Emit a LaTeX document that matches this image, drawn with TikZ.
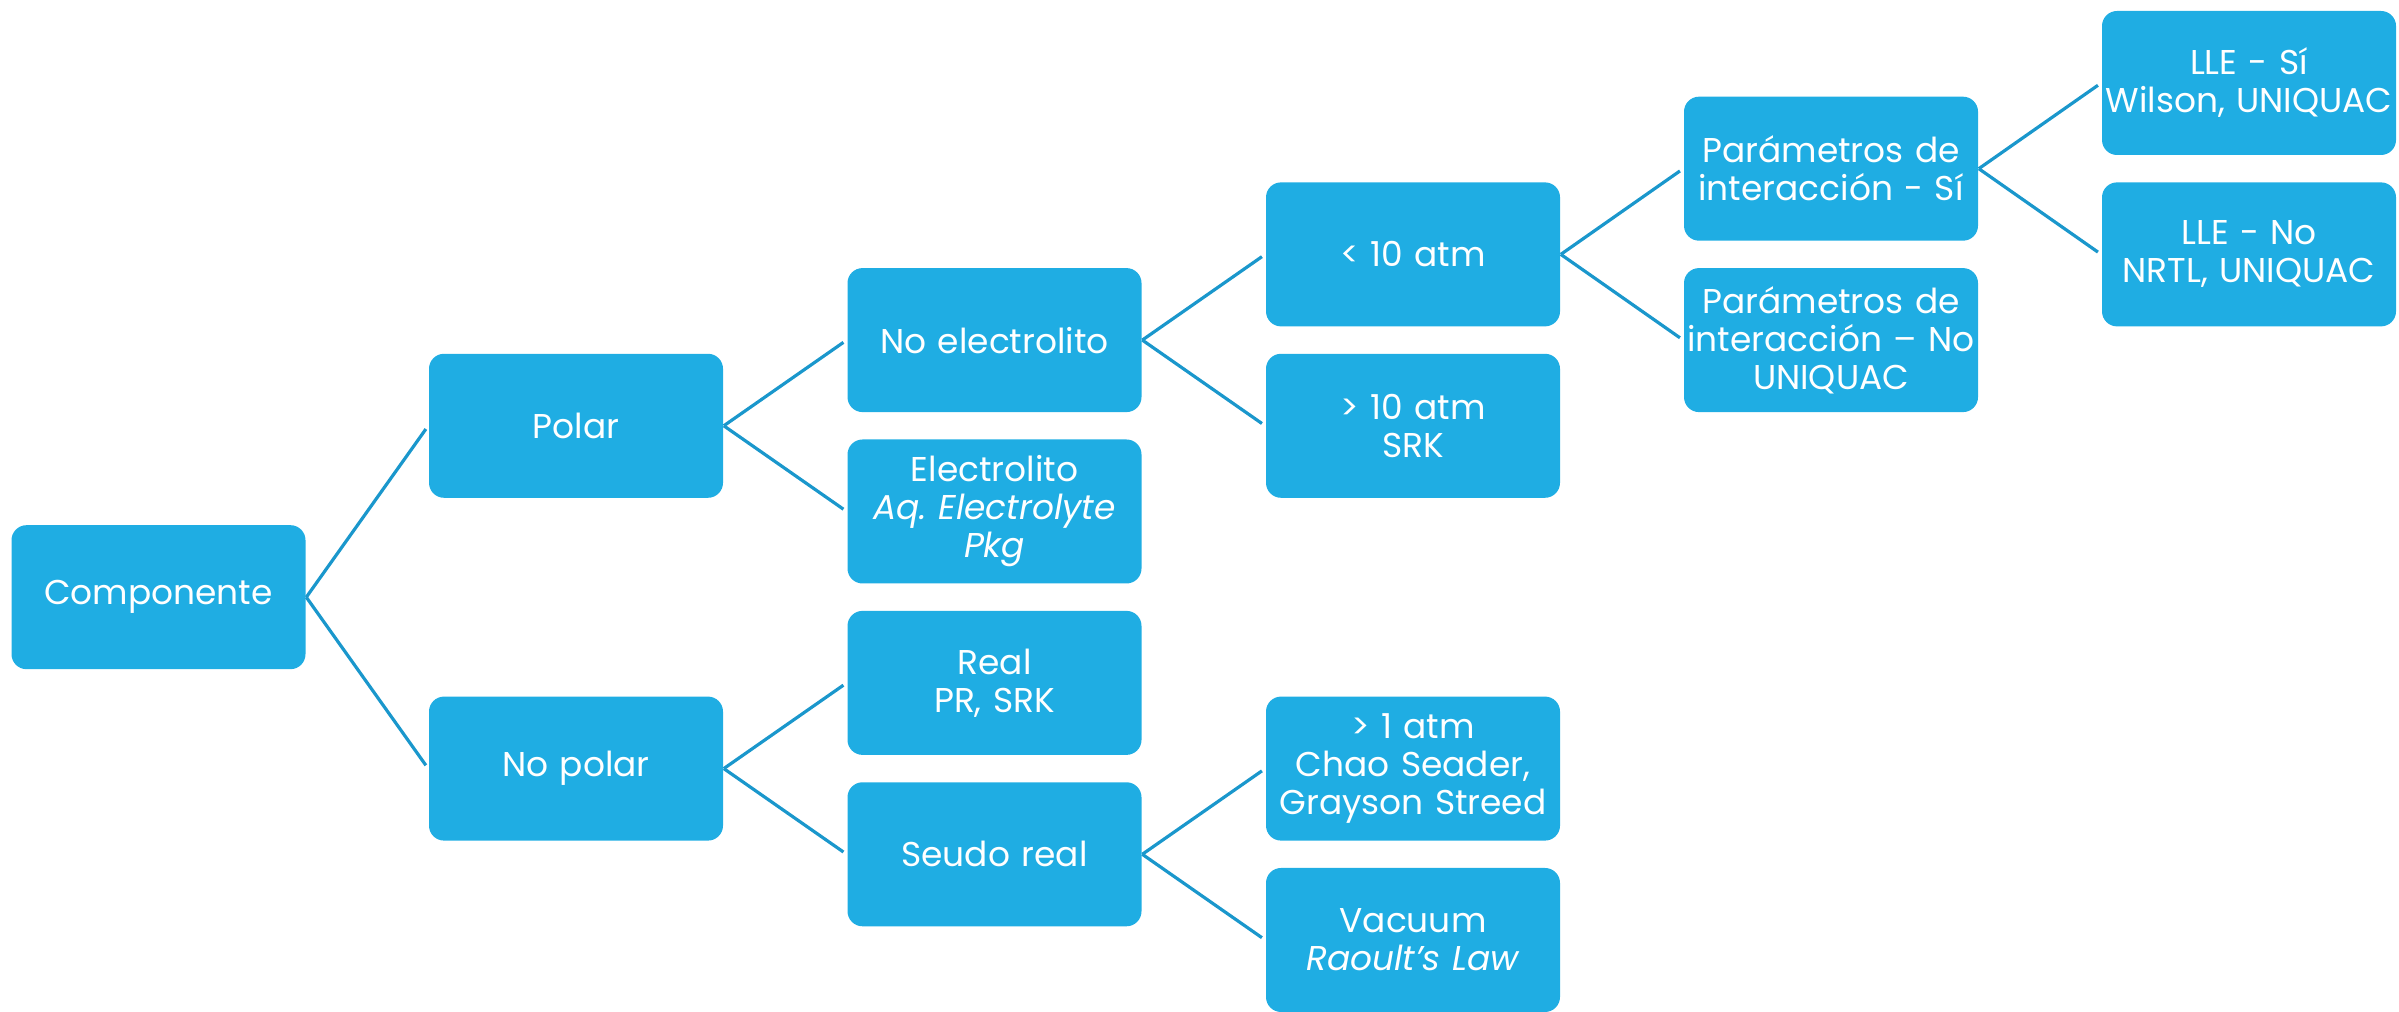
\documentclass[tikz,border=0pt]{standalone}
\usepackage{fontspec}
\setmainfont{Poppins}
\definecolor{boxfill}{HTML}{1FADE3}
\definecolor{linecol}{HTML}{1A97CC}
\begin{document}
\begin{tikzpicture}[x=0.25pt,y=-0.25pt,
  box/.style={draw=none,fill=boxfill,rounded corners=3.75pt,minimum width=73.5pt,minimum height=36pt,
    text width=72pt,inner xsep=0.75pt,inner ysep=1pt,
    text=white,align=center,font=\fontsize{8.6}{9.5}\selectfont},
  link/.style={draw=linecol,line width=0.8pt,shorten >=1pt}]
\useasboundingbox (0,0) rectangle (2399,1012);
\node[box] (comp) at (158.5,{83+6*85.7}) {Componente};
\node[box] (polar) at (576,{83+4*85.7}) {Polar};
\node[box] (nopolar) at (576,{83+8*85.7}) {No polar};
\node[box] (noelec) at (994.5,{83+3*85.7}) {No electrolito};
\node[box] (elec) at (994.5,{83+5*85.7}) {Electrolito\\\textit{Aq.\ Electrolyte}\\\textit{Pkg}};
\node[box] (real) at (994.5,{83+7*85.7}) {Real\\PR, SRK};
\node[box] (seudo) at (994.5,{83+9*85.7}) {Seudo real};
\node[box] (lt10) at (1413,{83+2*85.7}) {< 10 atm};
\node[box] (gt10) at (1413,{83+4*85.7}) {> 10 atm\\SRK};
\node[box] (gt1) at (1413,{83+8*85.7}) {> 1 atm\\Chao Seader,\\Grayson Streed};
\node[box] (vac) at (1413,{83+10*85.7}) {Vacuum\\\textit{Raoult’s Law}};
\node[box] (psi) at (1831,{83+1*85.7}) {Parámetros de\\interacción - Sí};
\node[box] (pno) at (1831,{83+3*85.7}) {Parámetros de\\interacción – No\\UNIQUAC};
\node[box] (llesi) at (2249,{83+0*85.7}) {LLE - Sí\\Wilson, UNIQUAC};
\node[box] (lleno) at (2249,{83+2*85.7}) {LLE - No\\NRTL, UNIQUAC};
\draw[link] (comp.east) -- (polar.west);
\draw[link] (comp.east) -- (nopolar.west);
\draw[link] (polar.east) -- (noelec.west);
\draw[link] (polar.east) -- (elec.west);
\draw[link] (nopolar.east) -- (real.west);
\draw[link] (nopolar.east) -- (seudo.west);
\draw[link] (noelec.east) -- (lt10.west);
\draw[link] (noelec.east) -- (gt10.west);
\draw[link] (seudo.east) -- (gt1.west);
\draw[link] (seudo.east) -- (vac.west);
\draw[link] (lt10.east) -- (psi.west);
\draw[link] (lt10.east) -- (pno.west);
\draw[link] (psi.east) -- (llesi.west);
\draw[link] (psi.east) -- (lleno.west);
\end{tikzpicture}
\end{document}
